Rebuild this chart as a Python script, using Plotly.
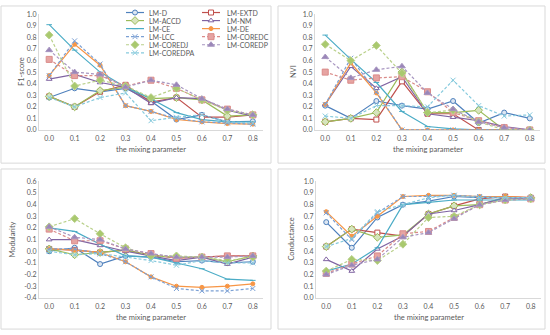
import plotly.graph_objects as go

W, H = 550, 335

mixing = [0.0, 0.1, 0.2, 0.3, 0.4, 0.5, 0.6, 0.7, 0.8]
mixing_labels = ["0.0", "0.1", "0.2", "0.3", "0.4", "0.5", "0.6", "0.7", "0.8"]

methods = ["LM-D", "LM-EXTD", "LM-ACCD", "LM-NM", "LM-CE", "LM-DE",
           "LM-LCC", "LM-COREDC", "LM-COREDJ", "LM-COREDP", "LM-COREDPA"]

f1_score = {
    "LM-D":       [0.28, 0.36, 0.33, 0.36, 0.25, 0.09, 0.13, 0.07, 0.075],
    "LM-EXTD":    [0.29, 0.20, 0.33, 0.39, 0.24, 0.28, 0.11, 0.11, 0.13],
    "LM-ACCD":    [0.29, 0.20, 0.34, 0.37, 0.27, 0.28, 0.26, 0.12, 0.13],
    "LM-NM":      [0.44, 0.48, 0.41, 0.37, 0.23, 0.28, 0.27, 0.17, 0.12],
    "LM-CE":      [0.91, 0.69, 0.50, 0.37, 0.27, 0.15, 0.09, 0.07, 0.07],
    "LM-DE":      [0.47, 0.74, 0.56, 0.21, 0.16, 0.09, 0.07, 0.055, 0.05],
    "LM-LCC":     [0.47, 0.77, 0.57, 0.21, 0.16, 0.10, 0.07, 0.06, 0.05],
    "LM-COREDC":  [0.61, 0.47, 0.47, 0.38, 0.43, 0.36, 0.26, 0.18, 0.13],
    "LM-COREDJ":  [0.82, 0.38, 0.43, 0.38, 0.28, 0.36, 0.26, 0.17, 0.13],
    "LM-COREDP":  [0.69, 0.50, 0.48, 0.37, 0.43, 0.39, 0.27, 0.18, 0.13],
    "LM-COREDPA": [0.28, 0.20, 0.28, 0.32, 0.08, 0.11, 0.13, 0.07, 0.06],
}

nvi = {
    "LM-D":       [0.21, 0.10, 0.25, 0.21, 0.18, 0.25, 0.06, 0.15, 0.10],
    "LM-EXTD":    [0.07, 0.10, 0.09, 0.42, 0.14, 0.14, 0.0, 0.0, 0.0],
    "LM-ACCD":    [0.07, 0.10, 0.15, 0.50, 0.15, 0.15, 0.17, 0.0, 0.0],
    "LM-NM":      [0.22, 0.55, 0.36, 0.46, 0.14, 0.11, 0.08, 0.03, 0.0],
    "LM-CE":      [0.82, 0.61, 0.41, 0.16, 0.03, 0.01, 0.0, 0.0, 0.0],
    "LM-DE":      [0.22, 0.58, 0.32, 0.0, 0.0, 0.0, 0.0, 0.0, 0.0],
    "LM-LCC":     [0.22, 0.62, 0.33, 0.0, 0.0, 0.0, 0.0, 0.0, 0.0],
    "LM-COREDC":  [0.50, 0.43, 0.45, 0.46, 0.33, 0.15, 0.08, 0.02, 0.0],
    "LM-COREDJ":  [0.74, 0.60, 0.73, 0.49, 0.15, 0.17, 0.07, 0.0, 0.0],
    "LM-COREDP":  [0.63, 0.45, 0.52, 0.55, 0.32, 0.18, 0.07, 0.02, 0.0],
    "LM-COREDPA": [0.12, 0.10, 0.21, 0.21, 0.20, 0.43, 0.21, 0.12, 0.13],
}

modularity = {
    "LM-D":       [0.00, 0.03, -0.11, -0.04, -0.05, -0.09, -0.08, -0.10, -0.09],
    "LM-EXTD":    [0.02, 0.01, -0.01, 0.01, -0.03, -0.06, -0.05, -0.04, -0.04],
    "LM-ACCD":    [0.02, -0.03, -0.01, 0.01, -0.04, -0.05, -0.05, -0.09, -0.04],
    "LM-NM":      [0.10, 0.10, 0.05, 0.00, -0.04, -0.08, -0.05, -0.11, -0.05],
    "LM-CE":      [0.20, 0.17, 0.06, -0.04, -0.05, -0.10, -0.15, -0.24, -0.25],
    "LM-DE":      [0.02, 0.01, -0.01, -0.09, -0.22, -0.30, -0.31, -0.30, -0.28],
    "LM-LCC":     [0.02, 0.02, -0.02, -0.09, -0.22, -0.32, -0.34, -0.34, -0.32],
    "LM-COREDC":  [0.19, 0.09, 0.09, 0.02, -0.02, -0.06, -0.05, -0.04, -0.04],
    "LM-COREDJ":  [0.21, 0.28, 0.15, 0.03, -0.04, -0.04, -0.05, -0.08, -0.05],
    "LM-COREDP":  [0.21, 0.12, 0.10, 0.02, -0.02, -0.05, -0.05, -0.05, -0.04],
    "LM-COREDPA": [0.00, -0.03, -0.02, -0.05, -0.08, -0.12, -0.08, -0.10, -0.10],
}

conductance = {
    "LM-D":       [0.65, 0.43, 0.69, 0.80, 0.83, 0.87, 0.86, 0.86, 0.86],
    "LM-EXTD":    [0.44, 0.59, 0.56, 0.53, 0.72, 0.79, 0.85, 0.87, 0.86],
    "LM-ACCD":    [0.44, 0.59, 0.52, 0.54, 0.72, 0.79, 0.80, 0.86, 0.86],
    "LM-NM":      [0.33, 0.23, 0.42, 0.53, 0.72, 0.75, 0.80, 0.86, 0.85],
    "LM-CE":      [0.23, 0.29, 0.43, 0.80, 0.82, 0.84, 0.84, 0.84, 0.84],
    "LM-DE":      [0.74, 0.53, 0.70, 0.87, 0.88, 0.88, 0.87, 0.87, 0.86],
    "LM-LCC":     [0.73, 0.50, 0.73, 0.87, 0.87, 0.88, 0.87, 0.86, 0.86],
    "LM-COREDC":  [0.21, 0.29, 0.36, 0.55, 0.57, 0.69, 0.80, 0.84, 0.85],
    "LM-COREDJ":  [0.23, 0.33, 0.32, 0.46, 0.69, 0.70, 0.80, 0.84, 0.85],
    "LM-COREDP":  [0.20, 0.28, 0.33, 0.52, 0.56, 0.68, 0.80, 0.84, 0.85],
    "LM-COREDPA": [0.44, 0.51, 0.74, 0.80, 0.86, 0.88, 0.86, 0.86, 0.86],
}

y_ticks_pos = [0.0, 0.1, 0.2, 0.3, 0.4, 0.5, 0.6, 0.7, 0.8, 0.9, 1.0]
y_ticks_mod = [-0.4, -0.3, -0.2, -0.1, 0.0, 0.1, 0.2, 0.3, 0.4, 0.5, 0.6]

# ---------- styles ----------
styles = {
    "LM-D":       dict(color="#4F81BD", dash="solid", symbol="circle", fill="#DCE6F2", size=5),
    "LM-EXTD":    dict(color="#C0504D", dash="solid", symbol="square", fill="#FFFFFF", size=5),
    "LM-ACCD":    dict(color="#9BBB59", dash="solid", symbol="diamond", fill="#D7E4BD", size=6),
    "LM-NM":      dict(color="#8064A2", dash="solid", symbol="triangle-up", fill="#FFFFFF", size=5),
    "LM-CE":      dict(color="#4BACC6", dash="solid", symbol="line-ew", fill="#4BACC6", size=4),
    "LM-DE":      dict(color="#F79646", dash="solid", symbol="circle", fill="#F79646", size=4),
    "LM-LCC":     dict(color="#7BA0D4", dash="3px,2px", symbol="x-thin", fill="#7BA0D4", size=5),
    "LM-COREDC":  dict(color="#DA8B89", dash="3px,2px", symbol="square", fill="#E6A4A2", size=6),
    "LM-COREDJ":  dict(color="#B9D08A", dash="3px,2px", symbol="diamond", fill="#A9C96E", size=6),
    "LM-COREDP":  dict(color="#A795C0", dash="3px,2px", symbol="triangle-up", fill="#9A86B8", size=6),
    "LM-COREDPA": dict(color="#86CADD", dash="3px,2px", symbol="x-thin", fill="#86CADD", size=5),
}

FONT = "Lato"
TXT = "#595959"
AXC = "#D9D9D9"


def fx(p):
    return p / W


def fy(p):
    return 1 - p / H


panels = [
    dict(data=f1_score, xdom=(39, 263), ydom=(9.5, 128), yr=[0, 1.0], yt=y_ticks_pos,
         ytitle="F1-score", ytx=21, frame=(1, 1, 271, 162)),
    dict(data=nvi, xdom=(315, 540), ydom=(9.5, 128), yr=[0, 1.0], yt=y_ticks_pos,
         ytitle="NVI", ytx=293, frame=(278, 1, 545, 162)),
    dict(data=modularity, xdom=(39, 263), ydom=(180.7, 300), yr=[-0.4, 0.6], yt=y_ticks_mod,
         ytitle="Modularity", ytx=13, frame=(1, 168, 271, 332)),
    dict(data=conductance, xdom=(316, 541), ydom=(180.7, 300), yr=[0, 1.0], yt=y_ticks_pos,
         ytitle="Conductance", ytx=292, frame=(278, 168, 545, 332)),
]

fig = go.Figure()
layout = dict(width=W, height=H, margin=dict(l=0, r=0, t=0, b=0),
              paper_bgcolor="white", plot_bgcolor="rgba(0,0,0,0)",
              showlegend=False, font=dict(family=FONT, color=TXT, size=7))
shapes = []
annotations = []

for i, p in enumerate(panels, start=1):
    xa = "x" if i == 1 else f"x{i}"
    ya = "y" if i == 1 else f"y{i}"
    for m in methods:
        st = styles[m]
        fig.add_trace(go.Scatter(
            x=mixing, y=p["data"][m], name=m, mode="lines+markers",
            xaxis=xa, yaxis=ya,
            line=dict(color=st["color"], width=1.2, dash=st["dash"]),
            marker=dict(symbol=st["symbol"], size=st["size"], color=st["fill"],
                        line=dict(color=st["color"], width=1)),
        ))
    layout[f"xaxis{i if i > 1 else ''}"] = dict(
        domain=[fx(p["xdom"][0]), fx(p["xdom"][1])], anchor=ya,
        range=[-0.04, 0.84], tickvals=mixing, ticktext=mixing_labels,
        showgrid=False, zeroline=False, showline=True, linecolor=AXC, linewidth=1,
        ticks="", tickfont=dict(size=7, color=TXT, family=FONT), ticklabelstandoff=2,
    )
    layout[f"yaxis{i if i > 1 else ''}"] = dict(
        domain=[fy(p["ydom"][1]), fy(p["ydom"][0])], anchor=xa,
        range=p["yr"], tickvals=p["yt"], ticktext=[f"{v:.1f}" for v in p["yt"]],
        showgrid=False, zeroline=False, showline=True, linecolor=AXC, linewidth=1,
        ticks="", tickfont=dict(size=7, color=TXT, family=FONT), ticklabelstandoff=0,
    )
    fx0, fy0, fx1, fy1 = p["frame"]
    shapes.append(dict(type="rect", xref="paper", yref="paper", layer="below",
                       x0=fx(fx0), x1=fx(fx1), y0=fy(fy1), y1=fy(fy0),
                       line=dict(color=AXC, width=1), fillcolor="white"))
    annotations.append(dict(text=p["ytitle"], xref="paper", yref="paper",
                            x=fx(p["ytx"]), y=fy((p["ydom"][0] + p["ydom"][1]) / 2),
                            textangle=-90, showarrow=False, xanchor="center", yanchor="middle",
                            font=dict(size=7.5, color=TXT, family=FONT)))
    annotations.append(dict(text="the mixing parameter", xref="paper", yref="paper",
                            x=fx((p["xdom"][0] + p["xdom"][1]) / 2),
                            y=fy(p["ydom"][1] + 20), showarrow=False,
                            xanchor="center", yanchor="middle",
                            font=dict(size=7.5, color=TXT, family=FONT)))

# ---------- compact legend (pixel-coordinate overlay axis) ----------
layout["xaxis5"] = dict(domain=[0, 1], range=[0, W], visible=False, anchor="y5", fixedrange=True)
layout["yaxis5"] = dict(domain=[0, 1], range=[H, 0], visible=False, anchor="x5", fixedrange=True)
col_x = [(126, 144, 147), (202, 220, 225)]
row_y0, row_dy = 7.7, 8.25
for k, m in enumerate(methods):
    st = styles[m]
    c, r = k % 2, k // 2
    lx0, lx1, tx = col_x[c]
    yy = row_y0 + r * row_dy
    fig.add_trace(go.Scatter(x=[lx0, lx1], y=[yy, yy], mode="lines", xaxis="x5", yaxis="y5",
                             line=dict(color=st["color"], width=1.2, dash=st["dash"]),
                             hoverinfo="skip", showlegend=False))
    fig.add_trace(go.Scatter(x=[(lx0 + lx1) / 2], y=[yy], mode="markers", xaxis="x5", yaxis="y5",
                             marker=dict(symbol=st["symbol"], size=st["size"], color=st["fill"],
                                         line=dict(color=st["color"], width=1)),
                             hoverinfo="skip", showlegend=False))
    annotations.append(dict(text=m, xref="x5", yref="y5", x=tx, y=yy, showarrow=False,
                            xanchor="left", yanchor="middle",
                            font=dict(size=7, color=TXT, family=FONT)))

layout["shapes"] = shapes
layout["annotations"] = annotations
fig.update_layout(**layout)
fig.write_html("out.html", config={"displayModeBar": False},
               post_script="document.body.style.margin='0';document.body.style.padding='0';")
